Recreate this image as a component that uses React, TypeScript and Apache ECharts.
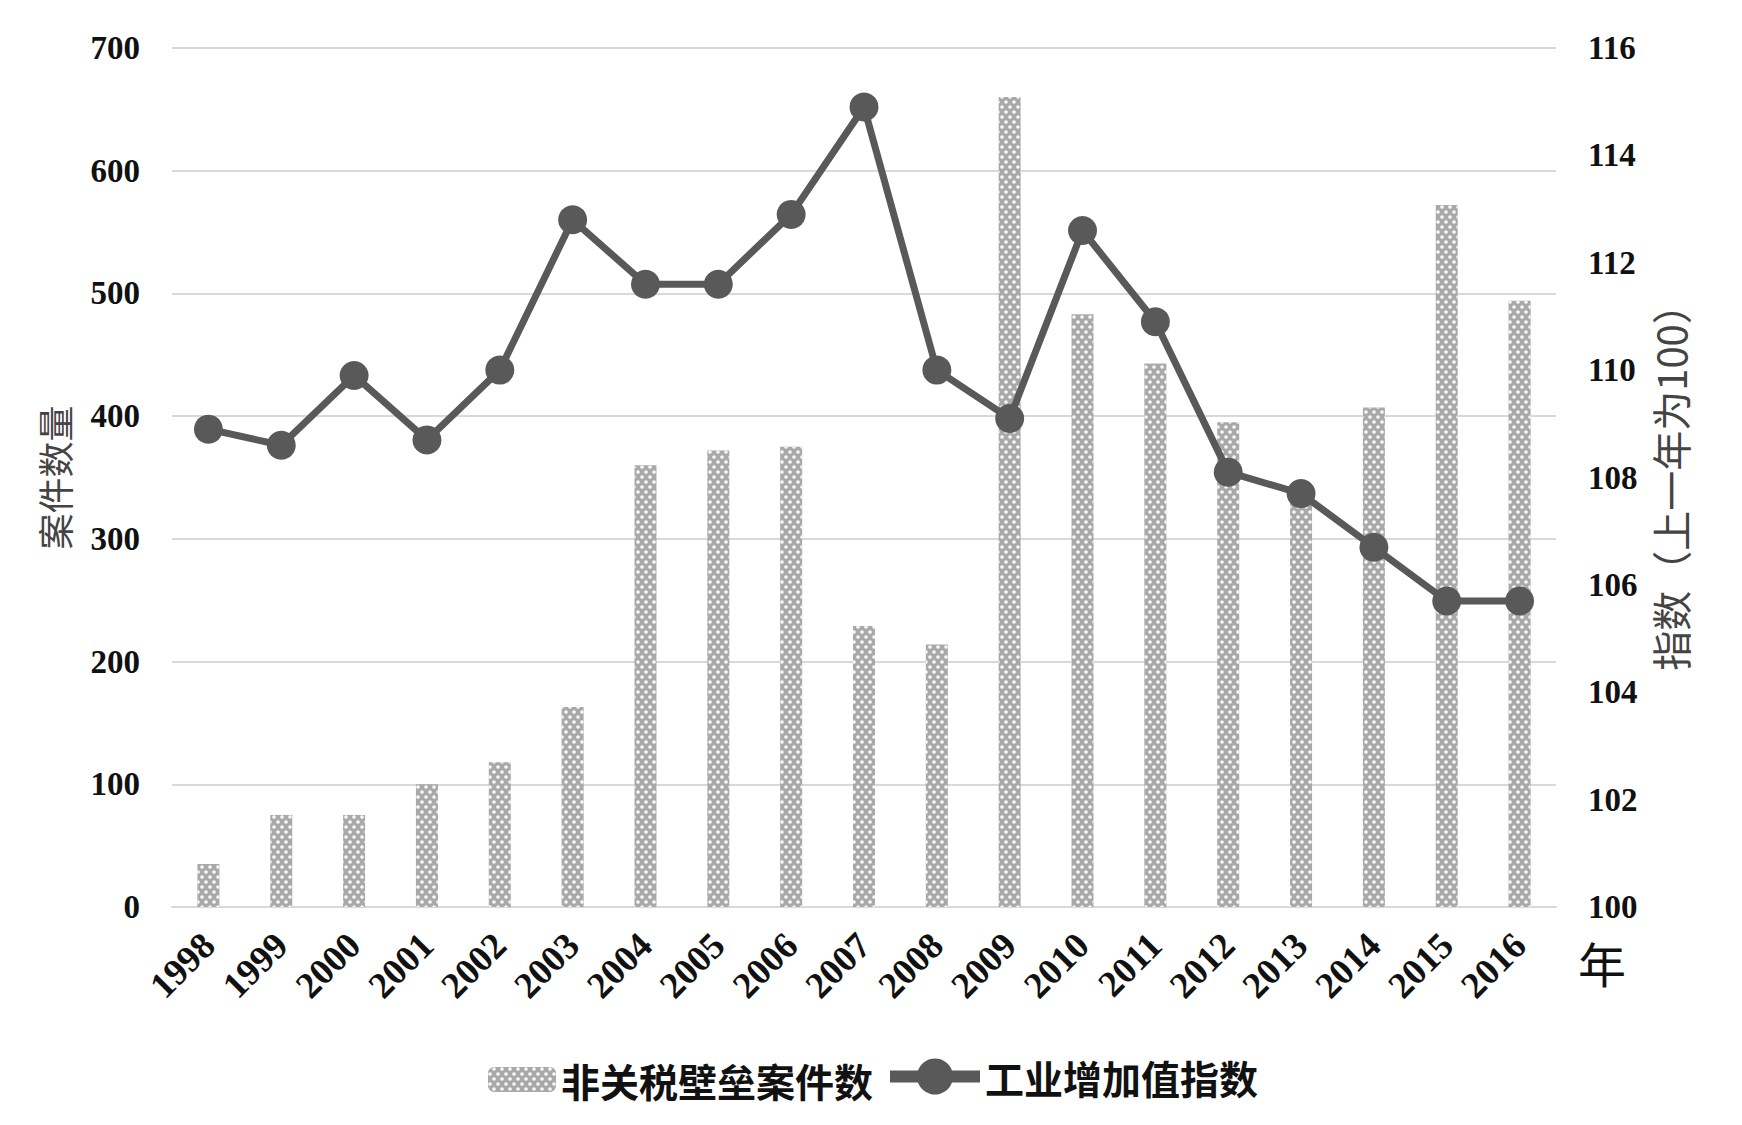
import React, { useEffect, useRef } from "react";
import * as echarts from "echarts";

const years = ["1998","1999","2000","2001","2002","2003","2004","2005","2006","2007","2008","2009","2010","2011","2012","2013","2014","2015","2016"];
const caseCounts = [35, 75, 75, 100, 118, 163, 360, 372, 375, 229, 214, 660, 483, 443, 395, 335, 407, 572, 494];
const industryIndex = [108.9, 108.6, 109.9, 108.7, 110.0, 112.8, 111.6, 111.6, 112.9, 114.9, 110.0, 109.1, 112.6, 110.9, 108.1, 107.7, 106.7, 105.7, 105.7];
const barName = "非关税壁垒案件数";
const lineName = "工业增加值指数";
const leftAxisName = "案件数量";
const rightAxisName = "指数（上一年为100）";
const xAxisUnit = "年";

const serif = "'Liberation Serif', 'Times New Roman', 'Noto Sans CJK SC', serif";
const cjk = "'Noto Sans CJK SC', sans-serif";

export default function App() {
  const ref = useRef<HTMLDivElement>(null);
  useEffect(() => {
    if (!ref.current) return;
    const chart = echarts.init(ref.current, null, { renderer: "svg" });
    const legendText = { fontFamily: cjk, fontWeight: "bold", fontSize: 39, color: "#111" };
    chart.setOption({
      animation: false,
      backgroundColor: "#ffffff",
      grid: { left: 172, right: 186, top: 48, bottom: 218, containLabel: false },
      legend: [
        {
          left: 488,
          top: 1060,
          padding: 0,
          itemWidth: 68,
          itemHeight: 25,
          textStyle: legendText,
          data: [barName],
        },
        {
          left: 884,
          top: 1057,
          padding: 0,
          itemWidth: 90,
          itemHeight: 45,
          textStyle: legendText,
          lineStyle: { width: 12 },
          data: [lineName],
        },
      ],
      xAxis: {
        type: "category",
        data: years,
        axisLine: { show: true, lineStyle: { color: "#d9d9d9", width: 2 } },
        axisTick: { show: false },
        axisLabel: {
          rotate: 45,
          margin: 32,
          fontFamily: serif,
          fontWeight: "bold",
          fontSize: 37,
          color: "#111",
        },
      },
      yAxis: [
        {
          type: "value",
          min: 0,
          max: 700,
          interval: 100,
          name: leftAxisName,
          nameLocation: "middle",
          nameGap: 100,
          nameRotate: 90,
          nameTextStyle: { fontFamily: cjk, fontSize: 36, color: "#444" },
          axisLine: { show: false },
          axisTick: { show: false },
          axisLabel: { margin: 32, fontFamily: serif, fontWeight: "bold", fontSize: 33, color: "#111" },
          splitLine: { lineStyle: { color: "#d9d9d9", width: 2 } },
        },
        {
          type: "value",
          min: 100,
          max: 116,
          interval: 2,
          name: rightAxisName,
          nameLocation: "middle",
          nameGap: 94,
          nameRotate: 90,
          nameTextStyle: { fontFamily: cjk, fontSize: 40, color: "#444" },
          axisLine: { show: false },
          axisTick: { show: false },
          axisLabel: { margin: 32, fontFamily: serif, fontWeight: "bold", fontSize: 33, color: "#111" },
          splitLine: { show: false },
        },
      ],
      series: [
        {
          name: barName,
          type: "bar",
          data: caseCounts,
          barWidth: 22,
          itemStyle: {
            color: "#a9a9a9",
            decal: {
              symbol: "circle",
              symbolSize: 0.9,
              color: "rgba(255,255,255,0.9)",
              dashArrayX: [[3.5, 3.5], [0, 3.5, 3.5, 0]],
              dashArrayY: [3.5, 0.5],
            },
          },
        },
        {
          name: lineName,
          type: "line",
          yAxisIndex: 1,
          data: industryIndex,
          symbol: "circle",
          symbolSize: 29,
          lineStyle: { color: "#595959", width: 7 },
          itemStyle: { color: "#595959" },
          z: 5,
        },
      ],
      graphic: [
        {
          type: "text",
          left: 1578,
          top: 938,
          style: { text: xAxisUnit, fontFamily: cjk, fontSize: 48, fill: "#111" },
        },
      ],
    });
    return () => chart.dispose();
  }, []);
  return <div ref={ref} style={{ position: "absolute", left: 0, top: 0, width: 1742, height: 1125 }} />;
}
